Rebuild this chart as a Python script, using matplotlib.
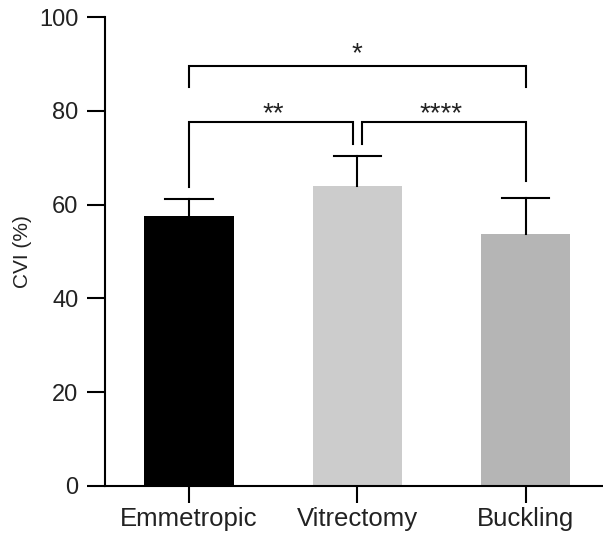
import matplotlib.pyplot as plt

plt.rcParams['font.family'] = ['Liberation Sans', 'DejaVu Sans']

# Data
groups = ['Emmetropic', 'Vitrectomy', 'Buckling']
means = [57.6, 64.0, 53.7]
sd_upper = [3.6, 6.4, 7.7]
colors = ['#000000', '#cccccc', '#b5b5b5']

# significance brackets: (left idx, right idx, y, left leg bottom, right leg bottom, label)
brackets = [
    (0, 2, 89.6, 85.0, 85.0, '*'),
    (0, 1, 77.6, 63.8, 73.0, '**'),
    (1, 2, 77.6, 73.0, 65.0, '****'),
]

txt = '#222222'
fig = plt.figure(figsize=(6.03, 5.35), dpi=100)
ax = fig.add_axes([0.174, 0.0916, 0.826, 0.8766])

x = list(range(len(groups)))
ax.bar(x, means, width=0.53, color=colors, zorder=2)

# upper-only error bars with caps
for xi, m, e in zip(x, means, sd_upper):
    ax.plot([xi, xi], [m, m + e], color='black', lw=1.5, zorder=3)
    ax.plot([xi - 0.14, xi + 0.14], [m + e, m + e], color='black', lw=1.5, zorder=3)

gap = 0.025
for i, j, y, lb, rb, lab in brackets:
    xl, xr = i, j
    if (i, j) == (0, 1):
        xr = j - gap
    if (i, j) == (1, 2):
        xl = i + gap
    ax.plot([xl, xl, xr, xr], [lb, y, y, rb], color='black', lw=1.5,
            solid_joinstyle='miter', zorder=4)
    dy = 0.9 if (i, j) == (0, 2) else 0.1
    ax.text((i + j) / 2, y + dy, lab, ha='center', va='baseline',
            fontsize=20, color=txt)

ax.set_xlim(-0.5, 2.46)
ax.set_ylim(0, 100)
ax.set_yticks([0, 20, 40, 60, 80, 100])
ax.set_xticks(x)
ax.set_xticklabels(groups)
ax.set_ylabel('CVI (%)', fontsize=15, labelpad=5, color=txt)
ax.tick_params(axis='y', labelsize=17, length=13, width=1.5, direction='out',
               pad=6, labelcolor=txt)
ax.tick_params(axis='x', labelsize=18.5, length=12, width=1.5, direction='out',
               pad=3, labelcolor=txt)
for s in ['top', 'right']:
    ax.spines[s].set_visible(False)
for s in ['left', 'bottom']:
    ax.spines[s].set_linewidth(1.5)

fig.savefig('out.png', dpi=100)
